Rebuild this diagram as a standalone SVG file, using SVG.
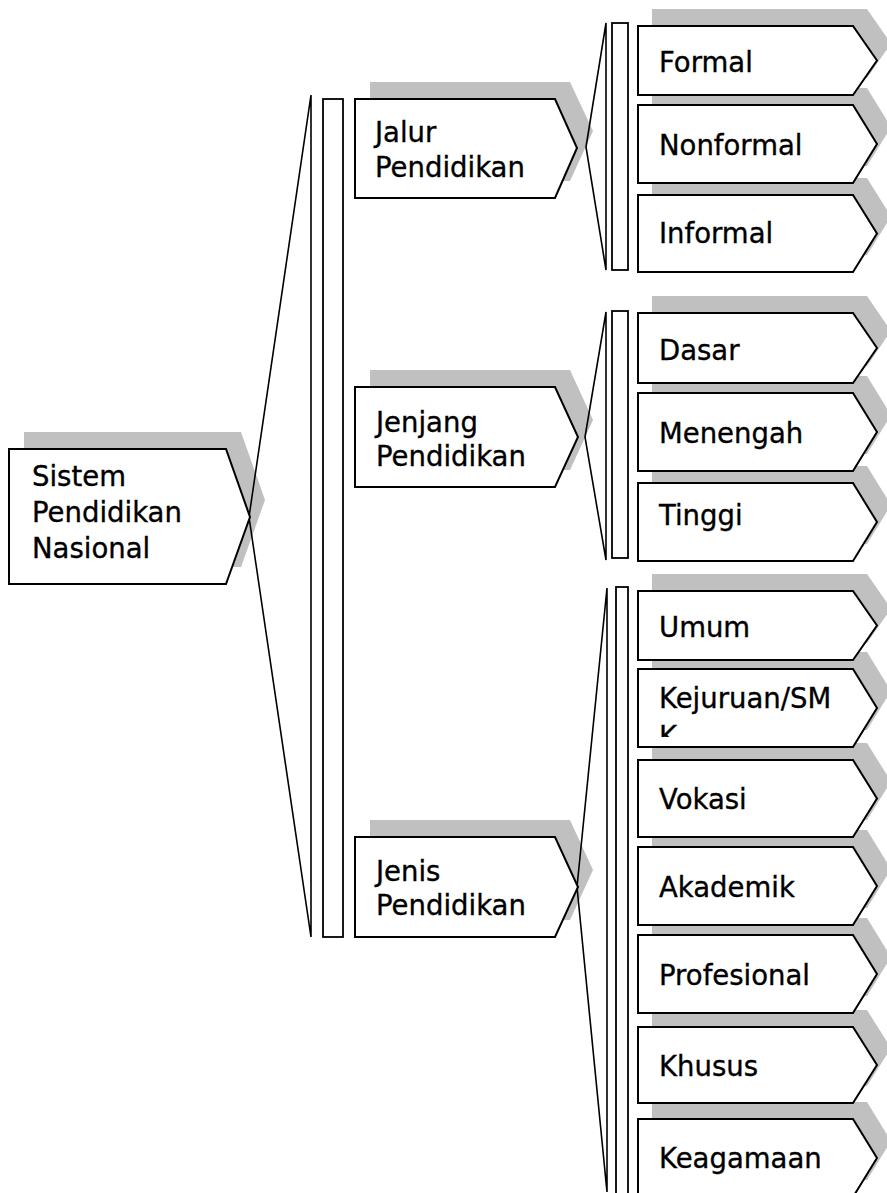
<svg xmlns="http://www.w3.org/2000/svg" width="887" height="1193" viewBox="0 0 887 1193">
  <style>
    .shadow { fill: #c0c0c0; stroke: none; }
    .box { fill: #ffffff; stroke: #000000; stroke-width: 2; stroke-linejoin: miter; }
    .wedge { fill: none; stroke: #000000; stroke-width: 1.6; stroke-linejoin: miter; }
    .bar { fill: #ffffff; stroke: #000000; stroke-width: 1.8; }
    .label { font-family: "DejaVu Sans", "Liberation Sans", sans-serif; font-size: 27.5px; fill: #000000; stroke: #000000; stroke-width: 0.35; }
  </style>
  <defs>
    <clipPath id="clip-kejuruan">
      <rect x="638" y="669" width="215" height="68"/>
    </clipPath>
  </defs>
  <rect width="887" height="1193" fill="#ffffff"/>

  <!-- drop shadows, drawn beneath every box -->
  <g id="shadows">
    <polygon class="shadow" points="24,432 241,432 265,500 241,567 24,567"/>
    <polygon class="shadow" points="370,82 570,82 593,131 570,181 370,181"/>
    <polygon class="shadow" points="370,370 570,370 593,420 570,470 370,470"/>
    <polygon class="shadow" points="370,820 570,820 593,870 570,920 370,920"/>
    <polygon class="shadow" points="652,9 867,9 891,43.5 867,78 652,78"/>
    <polygon class="shadow" points="652,88 867,88 891,127 867,166 652,166"/>
    <polygon class="shadow" points="652,178 867,178 891,216.5 867,255 652,255"/>
    <polygon class="shadow" points="652,296 867,296 891,331 867,366 652,366"/>
    <polygon class="shadow" points="652,376 867,376 891,415 867,454 652,454"/>
    <polygon class="shadow" points="652,466 867,466 891,505 867,544 652,544"/>
    <polygon class="shadow" points="652,574 867,574 891,608.5 867,643 652,643"/>
    <polygon class="shadow" points="652,652 867,652 891,691 867,730 652,730"/>
    <polygon class="shadow" points="652,743 867,743 891,781.5 867,820 652,820"/>
    <polygon class="shadow" points="652,830 867,830 891,869 867,908 652,908"/>
    <polygon class="shadow" points="652,918 867,918 891,957 867,996 652,996"/>
    <polygon class="shadow" points="652,1010 867,1010 891,1048 867,1086 652,1086"/>
    <polygon class="shadow" points="652,1102 867,1102 891,1141 867,1180 652,1180"/>
  </g>

  <!-- connectors: wedge brackets and vertical bars -->
  <g id="connectors">
    <polygon class="wedge" points="249,517 311,95 311,937"/>
    <rect class="bar" x="323" y="99" width="20" height="838"/>

    <polygon class="wedge" points="586,147 606,23 606,270"/>
    <rect class="bar" x="612" y="23" width="16" height="247"/>

    <polygon class="wedge" points="585,437 606,312 606,560"/>
    <rect class="bar" x="612" y="311" width="16" height="247"/>

    <polygon class="wedge" points="577,887 607,588 607,1192"/>
    <rect class="bar" x="616" y="587" width="12" height="620"/>
  </g>

  <!-- root -->
  <g id="node-sistem">
    <polygon class="box" points="9,449 226,449 250,517 226,584 9,584"/>
    <text class="label" x="32" y="486">Sistem</text>
    <text class="label" x="32" y="522">Pendidikan</text>
    <text class="label" x="32" y="558">Nasional</text>
  </g>

  <!-- second level -->
  <g id="node-jalur">
    <polygon class="box" points="355,99 555,99 577,148 555,198 355,198"/>
    <text class="label" x="375" y="142">Jalur</text>
    <text class="label" x="375" y="177">Pendidikan</text>
  </g>
  <g id="node-jenjang">
    <polygon class="box" points="355,387 555,387 578,437 555,487 355,487"/>
    <text class="label" x="376" y="432">Jenjang</text>
    <text class="label" x="376" y="466">Pendidikan</text>
  </g>
  <g id="node-jenis">
    <polygon class="box" points="355,837 555,837 578,887 555,937 355,937"/>
    <text class="label" x="376" y="881">Jenis</text>
    <text class="label" x="376" y="915">Pendidikan</text>
  </g>

  <!-- leaves: jalur -->
  <g id="node-formal">
    <polygon class="box" points="638,26 853,26 877,60.5 853,95 638,95"/>
    <text class="label" x="659" y="72">Formal</text>
  </g>
  <g id="node-nonformal">
    <polygon class="box" points="638,105 853,105 877,144 853,183 638,183"/>
    <text class="label" x="659" y="155">Nonformal</text>
  </g>
  <g id="node-informal">
    <polygon class="box" points="638,195 853,195 877,233.5 853,272 638,272"/>
    <text class="label" x="659" y="243">Informal</text>
  </g>

  <!-- leaves: jenjang -->
  <g id="node-dasar">
    <polygon class="box" points="638,313 853,313 877,348 853,383 638,383"/>
    <text class="label" x="659" y="360">Dasar</text>
  </g>
  <g id="node-menengah">
    <polygon class="box" points="638,393 853,393 877,432 853,471 638,471"/>
    <text class="label" x="659" y="443">Menengah</text>
  </g>
  <g id="node-tinggi">
    <polygon class="box" points="638,483 853,483 877,522 853,561 638,561"/>
    <text class="label" x="659" y="525">Tinggi</text>
  </g>

  <!-- leaves: jenis -->
  <g id="node-umum">
    <polygon class="box" points="638,591 853,591 877,625.5 853,660 638,660"/>
    <text class="label" x="659" y="637">Umum</text>
  </g>
  <g id="node-kejuruan">
    <polygon class="box" points="638,669 853,669 877,708 853,747 638,747"/>
    <g clip-path="url(#clip-kejuruan)">
      <text class="label" x="659" y="708">Kejuruan/SM</text>
      <text class="label" x="659" y="746">K</text>
    </g>
  </g>
  <g id="node-vokasi">
    <polygon class="box" points="638,760 853,760 877,798.5 853,837 638,837"/>
    <text class="label" x="659" y="809">Vokasi</text>
  </g>
  <g id="node-akademik">
    <polygon class="box" points="638,847 853,847 877,886 853,925 638,925"/>
    <text class="label" x="659" y="897">Akademik</text>
  </g>
  <g id="node-profesional">
    <polygon class="box" points="638,935 853,935 877,974 853,1013 638,1013"/>
    <text class="label" x="659" y="985">Profesional</text>
  </g>
  <g id="node-khusus">
    <polygon class="box" points="638,1027 853,1027 877,1065 853,1103 638,1103"/>
    <text class="label" x="659" y="1076">Khusus</text>
  </g>
  <g id="node-keagamaan">
    <polygon class="box" points="638,1119 853,1119 877,1158 853,1197 638,1197"/>
    <text class="label" x="659" y="1168">Keagamaan</text>
  </g>
</svg>
